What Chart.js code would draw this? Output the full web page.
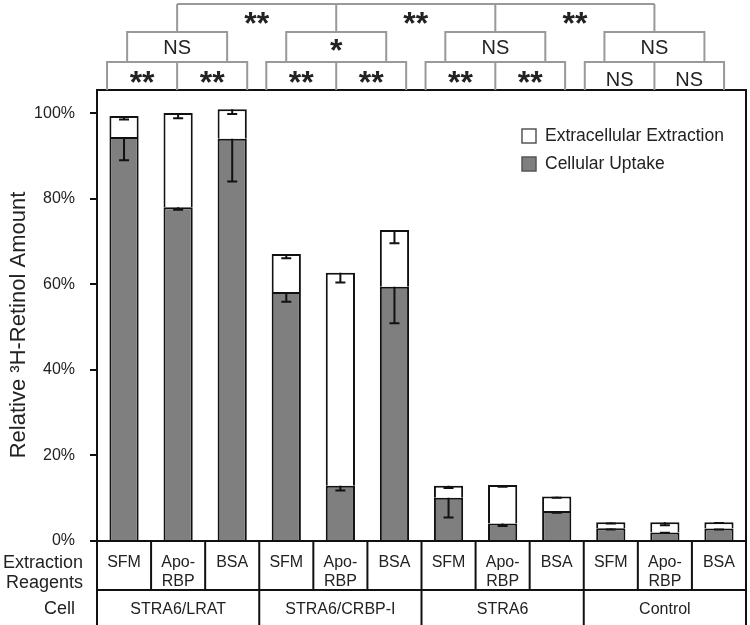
<!DOCTYPE html>
<html>
<head>
<meta charset="utf-8">
<script src="https://cdn.jsdelivr.net/npm/chart.js@4.4.1/dist/chart.umd.min.js"></script>
<style>
  html, body { margin: 0; padding: 0; background: #fff; }
  #wrap { width: 750px; height: 625px; }
</style>
</head>
<body>
<div id="wrap"><canvas id="chart" width="750" height="625"></canvas></div>
<script>
// categories (bottom table)
const reagents = ['SFM', 'Apo-RBP', 'BSA', 'SFM', 'Apo-RBP', 'BSA', 'SFM', 'Apo-RBP', 'BSA', 'SFM', 'Apo-RBP', 'BSA'];
const reagentLines = [['SFM'], ['Apo-', 'RBP'], ['BSA']];
const cells = ['STRA6/LRAT', 'STRA6/CRBP-I', 'STRA6', 'Control'];

// series values (% of total 3H-retinol)
const cellularUptake = [94.4, 78.0, 94.0, 58.2, 12.9, 59.4, 10.1, 4.1, 7.0, 3.0, 2.0, 2.9];
const extracellularExtraction = [4.9, 22.0, 6.9, 8.9, 49.8, 13.3, 2.8, 9.0, 3.4, 1.4, 2.4, 1.5];
// minus-only error bars
const cellularErr = [5.4, 0.6, 10.0, 2.3, 1.1, 8.5, 4.6, 0.6, 0.4, 0.3, 0.1, 0.2];
const extracellularErr = [0.8, 1.2, 1.1, 1.0, 2.3, 3.1, 0.5, 0.4, 0.3, 0.3, 0.7, 0.2];

const yTicks = [0, 20, 40, 60, 80, 100];

// significance marks
const pairMarks = [['**', '**'], ['**', '**'], ['**', '**'], ['NS', 'NS']];
const groupMarks = ['NS', '*', 'NS', 'NS'];
const topMarks = ['**', '**', '**'];

const FONT = '"Liberation Sans", Arial, sans-serif';
const TEXT = '#222';

function markText(ctx, s, x, yc) {
  // centre the visible glyphs on yc
  ctx.textBaseline = 'alphabetic';
  if (s.indexOf('*') >= 0) {
    ctx.font = 'bold 32px ' + FONT;
    ctx.fillText(s, x, yc + 14);
  } else {
    ctx.font = '20px ' + FONT;
    ctx.fillText(s, x, yc + 7);
  }
}

const extrasPlugin = {
  id: 'extras',
  afterDatasetsDraw(chart) {
    const ctx = chart.ctx;
    const y = chart.scales.y;
    const meta = chart.getDatasetMeta(0);
    ctx.save();
    ctx.strokeStyle = '#111';
    ctx.lineWidth = 2;
    cellularUptake.forEach((v, i) => {
      const cx = meta.data[i].x;
      const tops = [v, v + extracellularExtraction[i]];
      const errs = [cellularErr[i], extracellularErr[i]];
      tops.forEach((t, k) => {
        const y0 = y.getPixelForValue(t);
        const y1 = y.getPixelForValue(t - errs[k]);
        ctx.beginPath();
        ctx.moveTo(cx, y0);
        ctx.lineTo(cx, y1);
        ctx.moveTo(cx - 5, y1);
        ctx.lineTo(cx + 5, y1);
        ctx.stroke();
      });
    });
    ctx.restore();
  },
  afterDraw(chart) {
    const ctx = chart.ctx;
    const a = chart.chartArea;
    const x = chart.scales.x;
    const step = x.getPixelForValue(1) - x.getPixelForValue(0);
    ctx.save();

    // plot frame
    ctx.strokeStyle = '#111';
    ctx.lineWidth = 2;
    ctx.strokeRect(a.left, a.top, a.right - a.left, a.bottom - a.top);

    // bottom table
    const rowMid = a.bottom + 49;
    const tableBottom = 625;
    ctx.beginPath();
    for (let i = 0; i <= reagents.length; i++) {
      const bx = a.left + i * step;
      ctx.moveTo(bx, a.bottom);
      ctx.lineTo(bx, i % 3 === 0 ? tableBottom : rowMid);
    }
    ctx.moveTo(a.left, rowMid);
    ctx.lineTo(a.right, rowMid);
    ctx.stroke();

    ctx.fillStyle = TEXT;
    ctx.textAlign = 'center';
    ctx.textBaseline = 'middle';
    ctx.font = '16px ' + FONT;
    reagents.forEach((r, i) => {
      const lines = reagentLines[i % 3];
      const cx = x.getPixelForValue(i);
      lines.forEach((ln, k) => ctx.fillText(ln, cx, a.bottom + 22 + k * 19));
    });
    cells.forEach((c, g) => {
      const cx = (x.getPixelForValue(g * 3) + x.getPixelForValue(g * 3 + 2)) / 2;
      ctx.fillText(c, cx, rowMid + 20);
    });

    // row headers
    ctx.font = '18px ' + FONT;
    ctx.textAlign = 'right';
    ctx.fillText('Extraction', 83, a.bottom + 22);
    ctx.fillText('Reagents', 83, a.bottom + 42);
    ctx.fillText('Cell', 75, rowMid + 19);

    // y axis title
    ctx.save();
    ctx.translate(19, 325);
    ctx.rotate(-Math.PI / 2);
    ctx.textAlign = 'center';
    ctx.font = '22px ' + FONT;
    ctx.fillText('Relative \u00b3H-Retinol Amount', 0, 0);
    ctx.restore();

    // significance brackets
    ctx.strokeStyle = '#999';
    ctx.lineWidth = 2;
    ctx.textAlign = 'center';
    ctx.fillStyle = TEXT;
    const splits = [];
    pairMarks.forEach((pm, g) => {
      const l = x.getPixelForValue(g * 3) - 17 - 3 * g;
      const r = x.getPixelForValue(g * 3 + 2) + 15 - 3.3 * g;
      const s = (l + r) / 2;
      splits.push(s);
      ctx.beginPath();
      ctx.moveTo(l, a.top); ctx.lineTo(l, 62); ctx.lineTo(r, 62); ctx.lineTo(r, a.top);
      ctx.moveTo(s, 62); ctx.lineTo(s, a.top);
      // group box
      ctx.moveTo(s - 50, 62); ctx.lineTo(s - 50, 32); ctx.lineTo(s + 50, 32); ctx.lineTo(s + 50, 62);
      ctx.stroke();
      markText(ctx, pm[0], (l + s) / 2, 79);
      markText(ctx, pm[1], (s + r) / 2, 79);
      markText(ctx, groupMarks[g], s, 47);
    });
    ctx.beginPath();
    splits.forEach(s => { ctx.moveTo(s, 32); ctx.lineTo(s, 4); });
    ctx.moveTo(splits[0], 4); ctx.lineTo(splits[splits.length - 1], 4);
    ctx.stroke();
    topMarks.forEach((m, k) => markText(ctx, m, (splits[k] + splits[k + 1]) / 2, 20));

    // legend
    const items = [['Extracellular Extraction', '#ffffff'], ['Cellular Uptake', '#7f7f7f']];
    ctx.font = '17.5px ' + FONT;
    ctx.textAlign = 'left';
    ctx.textBaseline = 'middle';
    items.forEach((it, k) => {
      const ly = 136 + k * 28;
      ctx.fillStyle = it[1];
      ctx.fillRect(522, ly - 7, 14, 14);
      ctx.strokeStyle = '#555';
      ctx.lineWidth = 1.5;
      ctx.strokeRect(522, ly - 7, 14, 14);
      ctx.fillStyle = TEXT;
      ctx.fillText(it[0], 545, ly);
    });

    ctx.restore();
  }
};

new Chart(document.getElementById('chart'), {
  type: 'bar',
  data: {
    labels: reagents,
    datasets: [{
      label: 'Cellular Uptake',
      data: cellularUptake,
      backgroundColor: '#7f7f7f',
      borderColor: '#111',
      borderWidth: 2,
      borderSkipped: 'start'
    }, {
      label: 'Extracellular Extraction',
      data: extracellularExtraction,
      backgroundColor: '#ffffff',
      borderColor: '#111',
      borderWidth: 2,
      borderSkipped: 'start'
    }]
  },
  options: {
    responsive: false,
    animation: false,
    devicePixelRatio: 1,
    layout: { padding: { top: 90, bottom: 84, right: 4, left: 0 } },
    datasets: { bar: { categoryPercentage: 1, barPercentage: 0.54 } },
    plugins: { legend: { display: false }, tooltip: { enabled: false } },
    scales: {
      x: { stacked: true, display: false },
      y: {
        stacked: true,
        min: 0,
        max: 105.4,
        afterFit(scale) { scale.width = 97; },
        afterBuildTicks(scale) { scale.ticks = yTicks.map(v => ({ value: v })); },
        ticks: {
          stepSize: 20,
          padding: 15,
          color: TEXT,
          font: { family: FONT, size: 16 },
          callback: v => v + '%'
        },
        grid: { drawOnChartArea: false, tickLength: 7, color: '#111', lineWidth: 2 },
        border: { display: true, color: '#111', width: 2 }
      }
    }
  },
  plugins: [extrasPlugin]
});
</script>
</body>
</html>
